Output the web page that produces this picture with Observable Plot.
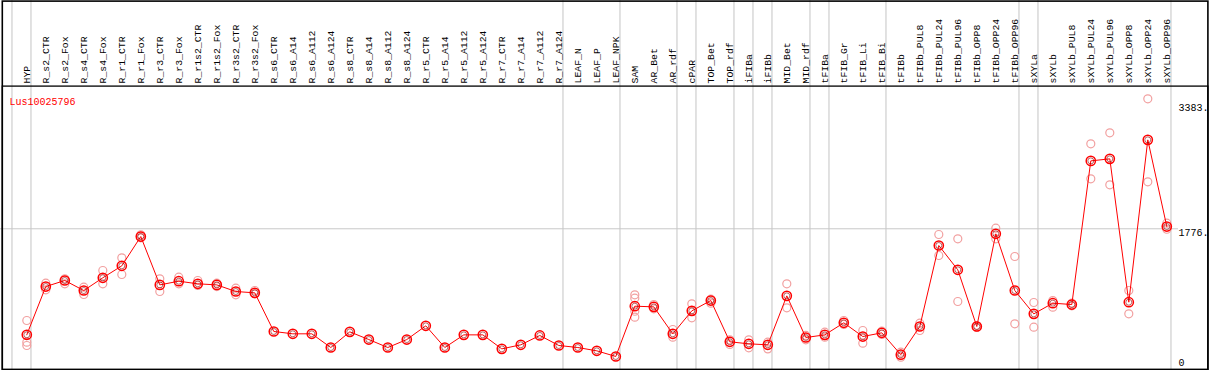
<!DOCTYPE html>
<html>
<head>
<meta charset="utf-8">
<script src="https://cdn.jsdelivr.net/npm/d3@7"></script>
<script src="https://cdn.jsdelivr.net/npm/@observablehq/plot@0.6"></script>
<style>
  html, body { margin: 0; padding: 0; background: white; }
</style>
</head>
<body>
<div id="chart"></div>
<script>
// ---- data ----
const geneId = "Lus10025796";

const samples = [
  "HYP","R_s2_CTR","R_s2_Fox","R_s4_CTR","R_s4_Fox","R_r1_CTR","R_r1_Fox","R_r3_CTR","R_r3_Fox",
  "R_r1s2_CTR","R_r1s2_Fox","R_r3s2_CTR","R_r3s2_Fox","R_s6_CTR","R_s6_A14","R_s6_A112","R_s6_A124",
  "R_s8_CTR","R_s8_A14","R_s8_A112","R_s8_A124","R_r5_CTR","R_r5_A14","R_r5_A112","R_r5_A124",
  "R_r7_CTR","R_r7_A14","R_r7_A112","R_r7_A124","LEAF_N","LEAF_P","LEAF_NPK","SAM","AR_Bet","AR_rdf",
  "cPAR","TOP_Bet","TOP_rdf","iFIBa","iFIBb","MID_Bet","MID_rdf","tFIBa","tFIB_Gr","tFIB_Li","tFIB_Bi",
  "tFIBb","tFIBb_PUL8","tFIBb_PUL24","tFIBb_PUL96","tFIBb_OPP8","tFIBb_OPP24","tFIBb_OPP96",
  "sXYLa","sXYLb","sXYLb_PUL8","sXYLb_PUL24","sXYLb_PUL96","sXYLb_OPP8","sXYLb_OPP24","sXYLb_OPP96"
];

const meanValues = [
  368, 1009, 1089, 956, 1125, 1284, 1673, 1031, 1080,
  1045, 1031, 943, 925, 412, 381, 381, 199,
  407, 305, 199, 305, 487, 199, 367, 367,
  181, 235, 359, 226, 199, 155, 80, 748, 739, 381,
  686, 823, 275, 248, 235, 885, 332, 367, 527, 345, 394,
  104, 478, 1554, 1231, 478, 1709, 956,
  646, 788, 770, 2678, 2705, 801, 2957, 1806
];

const replicateValues = [
  [558, 270, 226], [1053, 965], [1111, 1045], [1000, 903], [1222, 1045], [1390, 1169], [1696, 1656], [1111, 943], [1133, 1045],
  [1089, 1023], [1053, 1009], [987, 899], [956, 912], [], [], [], [],
  [], [], [], [], [], [], [], [],
  [], [], [], [], [], [], [], [899, 854, 681, 602], [770, 713], [438, 336],
  [779, 593], [841, 788], [301, 239], [301, 195], [270, 181], [1045, 726], [359, 301], [403, 336], [558, 505], [425, 257], [416, 372],
  [137, 71], [522, 425], [1700, 1421], [1643, 810], [490, 466], [1784, 1643], [1408, 514],
  [797, 469], [823, 735], [788, 753], [2904, 2439], [3050, 2360], [956, 646], [3502, 2400], [1850, 1770]
];

// group separators: index of the last column of each group
const groupEnds = [-1, 0, 28, 31, 34, 35, 37, 38, 39, 41, 42, 45, 52, 53, 60];

const gridValues = [1776];
const tickValues = [3383, 0];
const tickLabels = ["3383.", "0"];
const midTickValues = [1776];
const midTickLabels = ["1776."];

// ---- derived tables ----
const means = meanValues.map((v, i) => ({i, v}));
const reps = replicateValues.flatMap((arr, i) => arr.map(v => ({i, v})));

const chart = Plot.plot({
  width: 1209,
  height: 370,
  margin: 0,
  style: {background: "white", fontFamily: "'Liberation Mono', 'DejaVu Sans Mono', monospace", color: "black"},
  x: {domain: [0, 60], range: [26.3, 1166.3], axis: null},
  y: {domain: [0, 3383], range: [362, 107.3], axis: null},
  marks: [
    Plot.ruleX(groupEnds, {x: d => d + 0.22, stroke: "#c4c4c4", strokeWidth: 1}),
    Plot.ruleY(gridValues, {y: d => d, stroke: "#c8c8c8", strokeWidth: 1, insetRight: 31}),
    Plot.dot(reps, {x: "i", y: "v", r: 4, stroke: "#f2a0a0", strokeWidth: 1.2, fill: "none"}),
    Plot.line(means, {x: "i", y: "v", stroke: "red", strokeWidth: 1}),
    Plot.dot(means, {x: "i", y: "v", r: 4.6, stroke: "red", strokeWidth: 1.5, fill: "none"}),
    Plot.dot(means, {x: "i", y: "v", r: 3, stroke: "#8a0000", strokeWidth: 0.6, fill: "none"}),
    Plot.text(samples, {
      x: (d, i) => i, text: d => d, frameAnchor: "top", dy: 83,
      rotate: -90, textAnchor: "start", lineAnchor: "middle",
      fontSize: 9.8, fill: "black"
    }),
    Plot.text([geneId], {text: d => d, frameAnchor: "top-left", dx: 9, dy: 97, textAnchor: "start", fill: "red", fontSize: 10}),
    Plot.text(tickValues, {y: d => d, text: (d, i) => tickLabels[i], frameAnchor: "right", dx: -31, textAnchor: "start", fill: "black", fontSize: 10}),
    Plot.text(midTickValues, {y: d => d, text: (d, i) => midTickLabels[i], frameAnchor: "right", dx: -31, dy: 4.5, textAnchor: "start", fill: "black", fontSize: 10}),
    Plot.frame({stroke: "black", strokeWidth: 1.6, insetLeft: 1.8, insetTop: 0.6, insetRight: 1.6, insetBottom: 1.0}),
    Plot.frame({stroke: "black", strokeWidth: 1.3, insetLeft: 1.8, insetTop: 85.6, insetRight: 1.6, insetBottom: 1.0})
  ]
});
document.getElementById("chart").appendChild(chart);
</script>
</body>
</html>
